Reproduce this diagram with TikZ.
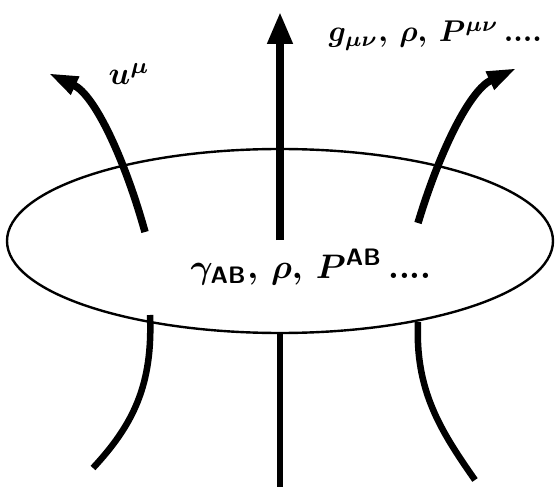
\documentclass[tikz,border=0pt]{standalone}
\usetikzlibrary{arrows.meta,shapes.geometric}
\begin{document}
\begin{tikzpicture}[x=1pt,y=-1pt,
  thickarrow/.style={line width=7.5pt,-{Triangle[length=32pt,width=24pt]}},
  sidearrow/.style={line width=7.5pt,-{Triangle[length=30pt,width=18pt]}},
  leg/.style={line width=6.5pt},
  lbl/.style={inner sep=0pt,font=\boldmath}]
\useasboundingbox (0,0) rectangle (558,487);
\node[draw,line width=2.4pt,ellipse,minimum width=546pt,minimum height=184pt,inner sep=0pt] (disc) at (280,241) {};
% upper arrows
\coordinate (cb) at (280,240);
\coordinate (ct) at (280,12);
\draw[thickarrow] (cb) -- (ct);
\coordinate (lb) at (145,232);
\coordinate (lt) at (48,73);
\draw[sidearrow] (lb) .. controls (125,160) and (95,95) .. (lt);
\coordinate (rb) at (418,223);
\coordinate (rt) at (517,68);
\draw[sidearrow] (rb) .. controls (440,150) and (470,90) .. (rt);
% lower legs
\coordinate (clt) at (280,333);
\coordinate (clb) at (280,487);
\draw[line width=6pt] (clt) -- (clb);
\coordinate (llt) at (150,315);
\coordinate (llb) at (93,468);
\draw[leg] (llt) .. controls (153,385) and (133,425) .. (llb);
\coordinate (rlt) at (418,322);
\coordinate (rlb) at (475,480);
\draw[leg] (rlt) .. controls (415,390) and (440,430) .. (rlb);
% labels
\node[lbl,anchor=base west,scale=3.4] (inner) at (190,278) {$\gamma_{\mathsf{AB}},\, \rho,\, P^{\mathsf{AB}}$\,\textbf{....}};
\node[lbl,anchor=base west,scale=3.0] (top) at (328,42) {$g_{\mu\nu},\, \rho,\, P^{\mu\nu}$\,\textbf{....}};
\node[lbl,anchor=base west,scale=3.2] (u) at (108,85) {$u^{\mu}$};
\end{tikzpicture}
\end{document}
